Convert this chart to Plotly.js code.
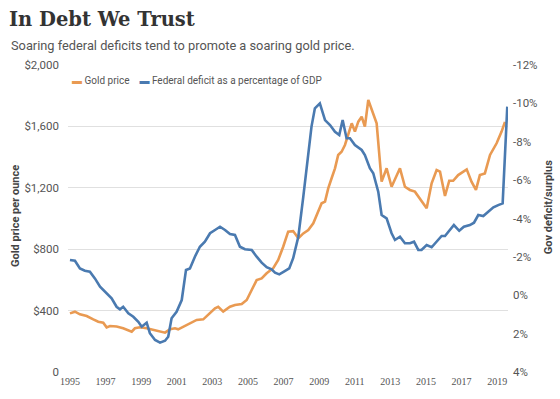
<!DOCTYPE html>
<html>
<head>
<meta charset="utf-8">
<script src="https://cdn.plot.ly/plotly-3.0.1.min.js"></script>
<style>html,body{margin:0;padding:0;background:#fff;}#chart{width:560px;height:399px;}</style>
</head>
<body>
<div id="chart"></div>
<script>
// Gold price per ounce (USD)
const goldYears = [1995.00,1995.28,1995.56,1995.94,1996.31,1996.59,1996.87,1997.06,1997.25,1997.62,1997.99,1998.28,1998.47,1998.65,1998.93,1999.31,1999.59,1999.87,2000.06,2000.34,2000.62,2000.90,2001.08,2001.37,2001.74,2002.12,2002.49,2002.77,2003.15,2003.33,2003.61,2003.99,2004.27,2004.65,2004.93,2005.21,2005.49,2005.77,2006.05,2006.42,2006.70,2006.98,2007.26,2007.54,2007.83,2008.11,2008.39,2008.67,2008.95,2009.14,2009.33,2009.51,2009.70,2009.89,2010.07,2010.26,2010.45,2010.63,2010.83,2011.01,2011.20,2011.39,2011.57,2011.76,2011.95,2012.23,2012.51,2012.79,2013.07,2013.35,2013.54,2013.82,2014.10,2014.38,2014.66,2015.04,2015.32,2015.60,2015.79,2016.07,2016.31,2016.53,2016.81,2017.29,2017.56,2017.81,2018.03,2018.31,2018.60,2018.97,2019.25,2019.44];
const goldPrice = [382,393,376,365,343,328,321,291,300,296,285,274,263,285,291,285,278,269,263,256,278,285,278,295,313,339,343,371,415,425,393,425,436,443,469,534,599,610,643,676,730,816,914,918,871,903,925,969,1044,1099,1110,1196,1262,1327,1414,1435,1479,1544,1620,1566,1631,1663,1598,1772,1707,1620,1240,1327,1207,1283,1327,1207,1186,1175,1131,1066,1229,1316,1305,1147,1246,1246,1283,1320,1240,1186,1283,1294,1414,1490,1566,1630];

// Federal deficit (-) / surplus (+) as a percentage of GDP
const deficitYears = [1995.00,1995.28,1995.56,1995.84,1996.12,1996.40,1996.69,1997.06,1997.34,1997.62,1997.81,1997.99,1998.28,1998.56,1998.84,1999.03,1999.31,1999.49,1999.78,2000.06,2000.34,2000.52,2000.71,2000.99,2001.28,2001.52,2001.74,2002.02,2002.30,2002.58,2002.87,2003.15,2003.43,2003.71,2003.99,2004.27,2004.55,2004.83,2005.21,2005.49,2005.77,2006.05,2006.33,2006.52,2006.76,2007.02,2007.32,2007.54,2007.83,2008.11,2008.39,2008.57,2008.76,2009.04,2009.33,2009.61,2009.89,2010.13,2010.32,2010.54,2010.73,2011.01,2011.39,2011.57,2011.85,2012.04,2012.32,2012.51,2012.79,2013.07,2013.26,2013.54,2013.82,2014.10,2014.33,2014.57,2014.75,2015.04,2015.32,2015.60,2015.88,2016.07,2016.31,2016.57,2016.87,2017.13,2017.47,2017.70,2017.94,2018.22,2018.50,2018.79,2019.06,2019.31,2019.57];
const deficitPct = [-1.84,-1.80,-1.40,-1.28,-1.23,-0.88,-0.45,-0.10,0.16,0.60,0.73,0.60,0.94,1.12,1.38,1.64,1.43,1.98,2.33,2.47,2.37,2.16,1.20,0.86,0.25,-1.32,-1.40,-2.01,-2.53,-2.79,-3.23,-3.40,-3.57,-3.40,-3.19,-3.14,-2.53,-2.40,-2.36,-2.01,-1.70,-1.46,-1.35,-1.18,-1.09,-1.23,-1.40,-1.93,-3.05,-5.14,-7.22,-8.79,-9.74,-10.0,-9.13,-8.87,-8.52,-8.35,-9.13,-8.18,-8.18,-7.83,-7.57,-7.31,-6.62,-6.36,-5.40,-4.18,-4.01,-3.23,-2.88,-3.05,-2.71,-2.71,-2.79,-2.36,-2.36,-2.62,-2.50,-2.79,-3.09,-3.09,-3.36,-3.66,-3.36,-3.57,-3.66,-3.78,-4.18,-4.13,-4.35,-4.58,-4.70,-4.79,-9.83];

// Tick labels
const xTickVals = [1995,1997,1999,2001,2003,2005,2007,2009,2011,2013,2015,2017,2019];
const goldTickVals = [0,400,800,1200,1600,2000];
const goldTickText = ['0','$400','$800','$1,200','$1,600','$2,000'];
const deficitTickVals = [-12,-10,-8,-6,-4,-2,0,2,4];
const deficitTickText = ['-12%','-10%','-8%','-6%','-4%','-2%','0%','2%','4%'];

const seriesNames = ['Gold price','Federal deficit as a percentage of GDP'];
const orange = '#E99A52';
const blue = '#4A7AB0';

const traces = [
  {x: goldYears, y: goldPrice, name: seriesNames[0], type: 'scatter', mode: 'lines',
   line: {color: orange, width: 2.6}, yaxis: 'y'},
  {x: deficitYears, y: deficitPct, name: seriesNames[1], type: 'scatter', mode: 'lines',
   line: {color: blue, width: 2.6}, yaxis: 'y2'}
];

const tickFont = {family: 'Roboto, "Liberation Sans", sans-serif', size: 11.5, color: '#555'};

const layout = {
  width: 560, height: 399,
  margin: {l: 68, r: 52, t: 65, b: 27, pad: 0},
  paper_bgcolor: '#fff', plot_bgcolor: '#fff',
  showlegend: false,
  title: {
    text: '<b>In Debt We Trust</b>',
    font: {family: '"DejaVu Serif", "Liberation Serif", serif', size: 19.5, color: '#333'},
    xref: 'container', x: 0.016, xanchor: 'left',
    yref: 'container', y: 0.952, yanchor: 'middle'
  },
  xaxis: {
    range: [1994.89, 2019.61],
    tickvals: xTickVals, ticktext: xTickVals.map(String),
    showgrid: false, zeroline: false, showline: false, ticks: '',
    tickfont: {family: '"Liberation Serif", serif', size: 10, color: '#555'},
    ticklabelstandoff: 2
  },
  yaxis: {
    range: [0, 2000],
    tickvals: goldTickVals, ticktext: goldTickText,
    showgrid: true, gridcolor: '#e0e0e0', gridwidth: 1,
    zeroline: false, showline: false, ticks: '',
    tickfont: tickFont, ticklabelstandoff: 8
  },
  yaxis2: {
    overlaying: 'y', side: 'right',
    range: [4, -12],
    tickvals: deficitTickVals, ticktext: deficitTickText,
    showgrid: false, zeroline: false, showline: false, ticks: '',
    tickfont: tickFont, ticklabelstandoff: 4
  },
  annotations: [
    {text: 'Soaring federal deficits tend to promote a soaring gold price.',
     xref: 'paper', yref: 'paper', x: -0.134, y: 1.065, xanchor: 'left', yanchor: 'middle',
     showarrow: false, font: {family: 'Roboto, sans-serif', size: 12.8, color: '#555'}},
    {text: '<span style="color:' + orange + '">▬</span> ' + seriesNames[0] +
           '    <span style="color:' + blue + '">▬</span> ' + seriesNames[1],
     xref: 'paper', yref: 'paper', x: 0.005, y: 0.95, xanchor: 'left', yanchor: 'middle',
     showarrow: false, font: {family: 'Roboto, sans-serif', size: 10, color: '#555'}},
    {text: '<b>Gold price per ounce</b>', textangle: -90,
     xref: 'paper', yref: 'paper', x: -0.1205, y: 0.508, xanchor: 'center', yanchor: 'middle',
     showarrow: false, font: {family: 'Roboto, sans-serif', size: 11, color: '#444'}},
    {text: '<b>Gov deficit/surplus</b>', textangle: -90,
     xref: 'paper', yref: 'paper', x: 1.0909, y: 0.537, xanchor: 'center', yanchor: 'middle',
     showarrow: false, font: {family: 'Roboto, sans-serif', size: 11, color: '#444'}}
  ]
};

Plotly.newPlot('chart', traces, layout, {displayModeBar: false, staticPlot: true});
</script>
</body>
</html>
